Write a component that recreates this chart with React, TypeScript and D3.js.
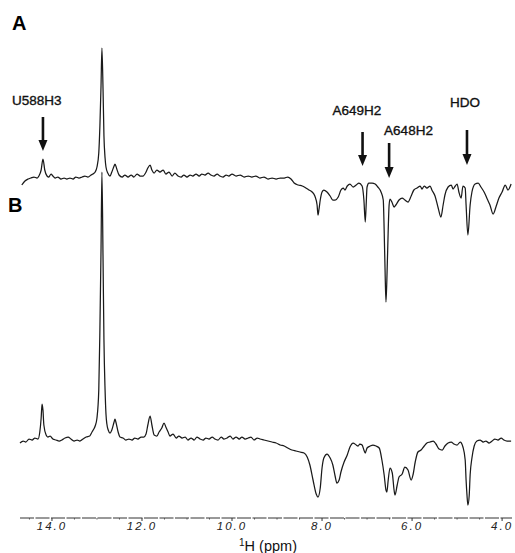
import React from 'react'
import * as d3 from 'd3'

// spectrum A: [ppm, intensity (a.u.)]
const traceA: [number, number][] = [
  [14.67, -7], [14.6, -3], [14.53, -1], [14.47, 0], [14.4, 1], [14.33, 0], [14.29, 2],
  [14.24, 8], [14.2, 19], [14.16, 8], [14.11, 2], [14.07, 1], [14.02, 4], [13.98, 2],
  [13.93, 0], [13.87, 1], [13.8, -1], [13.73, 0], [13.67, -1], [13.6, 0], [13.53, -1],
  [13.47, 1], [13.4, 0], [13.33, 1], [13.27, 2], [13.2, 1], [13.13, 3], [13.09, 4],
  [13.04, 6], [13.0, 11], [12.96, 25], [12.935, 52], [12.91, 92], [12.89, 130],
  [12.865, 88], [12.845, 42], [12.82, 20], [12.8, 11], [12.76, 5], [12.71, 2],
  [12.67, 6], [12.62, 12], [12.6, 14], [12.56, 9], [12.51, 3], [12.44, 1], [12.38, 3],
  [12.31, 1], [12.24, 3], [12.18, 1], [12.11, 4], [12.04, 2], [11.98, 2], [11.91, 6],
  [11.87, 10], [11.82, 13], [11.78, 8], [11.73, 5], [11.67, 8], [11.6, 6], [11.53, 8],
  [11.47, 4], [11.4, 6], [11.33, 2], [11.27, 5], [11.2, 2], [11.13, 1], [11.07, 3],
  [11.0, 1], [10.93, 3], [10.87, 2], [10.8, 4], [10.73, 2], [10.67, 4], [10.6, 3],
  [10.53, 5], [10.47, 3], [10.4, 2], [10.33, 4], [10.27, 2], [10.2, 1], [10.13, 3],
  [10.07, 2], [10.0, 4], [9.91, 2], [9.82, 3], [9.73, 1], [9.64, 2], [9.56, 1],
  [9.47, 2], [9.38, 0], [9.29, 1], [9.2, -1], [9.11, 0], [9.02, -1], [8.93, 0],
  [8.84, 0], [8.76, 1], [8.69, -1], [8.62, -5], [8.53, -7], [8.44, -8], [8.36, -10],
  [8.29, -12], [8.22, -14], [8.16, -18], [8.11, -27], [8.09, -37], [8.07, -32],
  [8.04, -22], [8.0, -14], [7.96, -12], [7.89, -14], [7.82, -18], [7.76, -22],
  [7.71, -22], [7.64, -19], [7.58, -12], [7.53, -10], [7.49, -12], [7.44, -8],
  [7.38, -6], [7.31, -9], [7.24, -7], [7.18, -5], [7.11, -8], [7.07, -22], [7.04, -44],
  [7.02, -27], [7.0, -9], [6.96, -5], [6.89, -5], [6.82, -6], [6.76, -9], [6.69, -14],
  [6.64, -22], [6.62, -52], [6.6, -92], [6.58, -124], [6.56, -102], [6.53, -52],
  [6.51, -27], [6.49, -21], [6.44, -25], [6.4, -29], [6.36, -27], [6.29, -22],
  [6.22, -20], [6.16, -22], [6.09, -24], [6.02, -18], [5.96, -12], [5.89, -10],
  [5.82, -8], [5.78, -11], [5.73, -8], [5.67, -10], [5.6, -8], [5.56, -12], [5.49, -18],
  [5.42, -30], [5.36, -39], [5.31, -27], [5.27, -17], [5.2, -9], [5.13, -7], [5.09, -11],
  [5.04, -8], [5.0, -6], [4.96, -14], [4.91, -20], [4.87, -8], [4.82, -10], [4.8, -27],
  [4.76, -57], [4.71, -27], [4.67, -14], [4.6, -6], [4.53, -5], [4.47, -9], [4.4, -14],
  [4.33, -21], [4.27, -27], [4.2, -36], [4.13, -28], [4.07, -20], [4.0, -14],
  [3.93, -7], [3.87, -12], [3.8, -6],
]

// spectrum B: [ppm, intensity (a.u.)]
const traceB: [number, number][] = [
  [14.71, -3], [14.64, -1], [14.58, -2], [14.51, 1], [14.44, 0], [14.38, 2], [14.31, 1],
  [14.27, 8], [14.24, 22], [14.22, 36], [14.2, 30], [14.18, 15], [14.13, 5], [14.09, 3],
  [14.04, 4], [13.98, 1], [13.91, 0], [13.84, -1], [13.78, 0], [13.71, 2], [13.64, 3],
  [13.58, 1], [13.51, -1], [13.44, 0], [13.38, -1], [13.31, 1], [13.24, 3], [13.16, 4],
  [13.11, 8], [13.07, 11], [13.04, 14], [13.0, 22], [12.96, 50], [12.935, 110],
  [12.91, 190], [12.89, 268], [12.865, 180], [12.845, 100], [12.82, 50], [12.8, 26],
  [12.78, 16], [12.75, 10], [12.71, 7], [12.67, 10], [12.62, 18], [12.6, 21], [12.58, 18],
  [12.53, 8], [12.49, 3], [12.42, 2], [12.36, 0], [12.29, 1], [12.22, 0], [12.16, 2],
  [12.09, 1], [12.02, 3], [11.96, 3], [11.91, 6], [11.87, 15], [11.82, 24], [11.78, 15],
  [11.73, 5], [11.67, 4], [11.62, 8], [11.56, 12], [11.51, 17], [11.47, 13], [11.42, 8],
  [11.38, 4], [11.31, 6], [11.24, 2], [11.18, 4], [11.11, 2], [11.04, 3], [10.98, 0],
  [10.91, 2], [10.84, 0], [10.78, 3], [10.71, 1], [10.64, 0], [10.58, 2], [10.51, 1],
  [10.44, 3], [10.38, 1], [10.31, 0], [10.24, 3], [10.18, 1], [10.11, 2], [10.04, 4],
  [9.98, 1], [9.91, 3], [9.84, 1], [9.78, 3], [9.71, 1], [9.64, 2], [9.58, 3], [9.51, 0],
  [9.44, 2], [9.38, 1], [9.29, 0], [9.2, -1], [9.11, -2], [9.02, -3], [8.93, -5],
  [8.84, -6], [8.76, -8], [8.67, -10], [8.58, -11], [8.49, -12], [8.4, -13], [8.33, -17],
  [8.27, -25], [8.2, -40], [8.13, -54], [8.09, -57], [8.04, -48], [8.0, -28], [7.96, -18],
  [7.89, -14], [7.82, -18], [7.76, -25], [7.71, -36], [7.67, -43], [7.62, -40],
  [7.58, -32], [7.51, -22], [7.44, -15], [7.38, -7], [7.31, -3], [7.24, -5], [7.2, -6],
  [7.16, -4], [7.11, -5], [7.07, -10], [7.04, -13], [7.0, -8], [6.93, -6], [6.87, -5],
  [6.8, -6], [6.73, -8], [6.67, -20], [6.62, -35], [6.58, -50], [6.56, -52], [6.53, -40],
  [6.49, -28], [6.44, -33], [6.4, -50], [6.38, -55], [6.33, -45], [6.29, -37],
  [6.22, -34], [6.16, -27], [6.09, -30], [6.02, -40], [5.98, -35], [5.93, -22],
  [5.87, -12], [5.8, -10], [5.73, -6], [5.67, -3], [5.6, -2], [5.53, -1], [5.47, -4],
  [5.4, -9], [5.33, -10], [5.27, -6], [5.2, -3], [5.13, -2], [5.07, -4], [5.0, -5],
  [4.93, -2], [4.87, -7], [4.82, -20], [4.8, -40], [4.78, -55], [4.76, -65], [4.73, -55],
  [4.71, -35], [4.67, -18], [4.62, -6], [4.56, -1], [4.49, 0], [4.42, -2], [4.36, -1],
  [4.29, -3], [4.22, -1], [4.16, 1], [4.09, 0], [4.02, 2], [3.96, 0], [3.89, -1], [3.8, -1],
]

const tickValues = [14, 12, 10, 8, 6, 4]
const minorTicks = [14.5, 13.5, 13, 12.5, 11.5, 11, 10.5, 9.5, 9, 8.5, 7.5, 7, 6.5, 5.5, 5, 4.5]

const labelsA = [
  { text: 'U588H3', ppm: 14.2 },
  { text: 'A649H2', ppm: 7.1 },
  { text: 'A648H2', ppm: 6.51 },
  { text: 'HDO', ppm: 4.78 },
]

const W = 515
const H = 553

function Arrow({ x, y0, y1 }: { x: number; y0: number; y1: number }) {
  return (
    <g>
      <line x1={x} x2={x} y1={y0} y2={y1 - 8} stroke="#111" strokeWidth={2.6} />
      <path d={`M${x - 4.5},${y1 - 11} L${x + 4.5},${y1 - 11} L${x},${y1} Z`} fill="#111" />
    </g>
  )
}

export default function App() {
  const x = d3.scaleLinear().domain([14.71, 3.78]).range([20, 512])
  // same intensity units for both traces, different baselines
  const yA = d3.scaleLinear().domain([0, 130]).range([178, 48])
  const yB = d3.scaleLinear().domain([0, 268]).range([440, 172])

  const lineA = d3.line<[number, number]>().x(d => x(d[0])).y(d => yA(d[1])).curve(d3.curveMonotoneX)
  const lineB = d3.line<[number, number]>().x(d => x(d[0])).y(d => yB(d[1])).curve(d3.curveMonotoneX)

  const axisY = 518
  const font = '"Liberation Sans", Arial, sans-serif'

  // label layout (baseline y, x offset from arrow) and arrow spans
  const labelPos: Record<string, { dx: number; y: number; a0: number; a1: number }> = {
    U588H3: { dx: -31, y: 105, a0: 117, a1: 151 },
    A649H2: { dx: -30, y: 115, a0: 132, a1: 166 },
    A648H2: { dx: -5, y: 135, a0: 143, a1: 178 },
    HDO: { dx: -17, y: 107, a0: 130, a1: 165 },
  }

  return (
    <svg width={W} height={H} style={{ position: 'absolute', left: 0, top: 0, background: '#fff' }}
      fontFamily={font}>
      <rect width={W} height={H} fill="#fff" />

      <path d={lineB(traceB) || ''} fill="none" stroke="#1a1a1a" strokeWidth={1.25} />
      <path d={lineA(traceA) || ''} fill="none" stroke="#1a1a1a" strokeWidth={1.25} />

      <text x={12} y={30} fontSize={20} fontWeight="bold">A</text>
      <text x={8} y={212} fontSize={20} fontWeight="bold">B</text>

      {labelsA.map(l => {
        const p = labelPos[l.text]
        const cx = x(l.ppm)
        return (
          <g key={l.text}>
            <text x={cx + p.dx} y={p.y} fontSize={13.5} fill="#111" stroke="#111" strokeWidth={0.35}>{l.text}</text>
            <Arrow x={cx} y0={p.a0} y1={p.a1} />
          </g>
        )
      })}

      {/* ppm axis */}
      <line x1={x.range()[0]} x2={x.range()[1]} y1={axisY} y2={axisY} stroke="#333" strokeWidth={1}
        strokeDasharray="14 1.5" />
      {minorTicks.map(t => (
        <line key={'m' + t} x1={x(t)} x2={x(t)} y1={axisY} y2={axisY + 1.5} stroke="#555" />
      ))}
      {tickValues.map(t => (
        <g key={t}>
          <line x1={x(t)} x2={x(t)} y1={axisY} y2={axisY + 3} stroke="#333" />
          <text x={x(t)} y={axisY + 12} fontSize={11.5} fontStyle="italic" letterSpacing={2}
            textAnchor="middle" fill="#222">{d3.format('.1f')(t)}</text>
        </g>
      ))}
      <text x={268} y={551} fontSize={14.5} textAnchor="middle" fill="#111">
        <tspan fontSize={10} dy={-5}>1</tspan>
        <tspan dy={5}>H (ppm)</tspan>
      </text>
    </svg>
  )
}
